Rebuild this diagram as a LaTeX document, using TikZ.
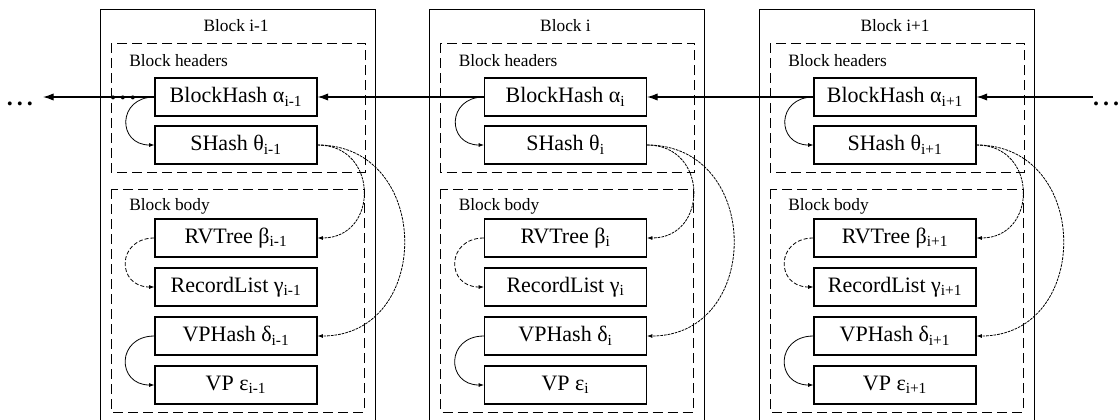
\documentclass[tikz,border=0pt]{standalone}
\usepackage{fontspec}
\setmainfont{Liberation Serif}
\usetikzlibrary{positioning,arrows.meta}

\begin{document}
\begin{tikzpicture}[x=0.75pt,y=-0.75pt,node distance=36.75pt,on grid,
  field/.style={draw,line width=0.8pt,minimum width=121.5pt,minimum height=28.5pt,
    inner sep=0pt,font=\fontsize{16.5}{18}\selectfont},
  title/.style={inner sep=0pt,font=\fontsize{13}{15}\selectfont},
  frame/.style={line width=0.75pt},
  part/.style={line width=0.75pt,dash pattern=on 7.5pt off 3.75pt},
  chain/.style={line width=0.9pt,-{Latex[length=8pt,width=5.5pt]}},
  hook/.style={line width=0.6pt,-{Latex[length=4pt,width=3pt]}},
  link/.style={line width=0.6pt,dash pattern=on 2pt off 0.75pt,-{Latex[length=4pt,width=3pt]}},
  dots/.style={anchor=base,inner sep=0pt,font=\fontsize{18}{20}\selectfont\bfseries}]
 \useasboundingbox (0,0) rectangle (1120,419);
 \clip (0,0) rectangle (1120,419);

 \foreach \k/\x/\s in {1/236/i-1, 2/565.5/i, 3/895/i+1} {
  % block frame
  \draw[frame] (\x-136,9) rectangle (\x+139,430);
  \node[title] (blk\k) at (\x,26) {Block \s};
  \draw[part] (\x-125,43) rectangle (\x+129,172);
  \node[title,anchor=west] (hd\k) at (\x-107,61) {Block headers};
  \draw[part] (\x-125,189) rectangle (\x+128,412);
  \node[title,anchor=west] (bd\k) at (\x-107,206) {Block body};
  % fields
  \node[field] (bh\k) at (\x,97) {BlockHash α\textsubscript{\s}};
  \node[field] (sh\k) [below=36pt of bh\k] {SHash θ\textsubscript{\s}};
  \node[field] (rv\k) [below=69.75pt of sh\k] {RVTree β\textsubscript{\s}};
  \node[field] (rl\k) [below=of rv\k] {RecordList γ\textsubscript{\s}};
  \node[field] (vh\k) [below=of rl\k] {VPHash δ\textsubscript{\s}};
  \node[field] (vp\k) [below=of vh\k] {VP ε\textsubscript{\s}};
  % links inside the block
  \draw[hook] (bh\k.west) to[out=180,in=180,looseness=2] (sh\k.west);
  \draw[hook,dash pattern=on 3pt off 1.5pt] (rv\k.west) to[out=180,in=180,looseness=2] (rl\k.west);
  \draw[hook] (vh\k.west) to[out=180,in=180,looseness=2] (vp\k.west);
  \draw[link] (sh\k.east) to[out=0,in=0,looseness=1.7] (rv\k.east);
  \draw[link] (sh\k.east) to[out=0,in=0,looseness=1.55] (vh\k.east);
 }

 % chain of blocks
 \node[dots] (ldots) at (20,105.5) {.\hspace{3pt}.\hspace{3pt}.};
 \node[dots] (mdots) at (123,99.5) {.\hspace{3pt}.\hspace{3pt}.};
 \node[dots] (rdots) at (1106,105.5) {.\hspace{3pt}.\hspace{3pt}.};
 \coordinate (lend) at (43,97);
 \coordinate (rend) at (1093,97);
 \draw[chain] (rend) -- (bh3.east);
 \draw[chain] (bh3.west) -- (bh2.east);
 \draw[chain] (bh2.west) -- (bh1.east);
 \draw[chain] (bh1.west) -- (lend);
\end{tikzpicture}
\end{document}
